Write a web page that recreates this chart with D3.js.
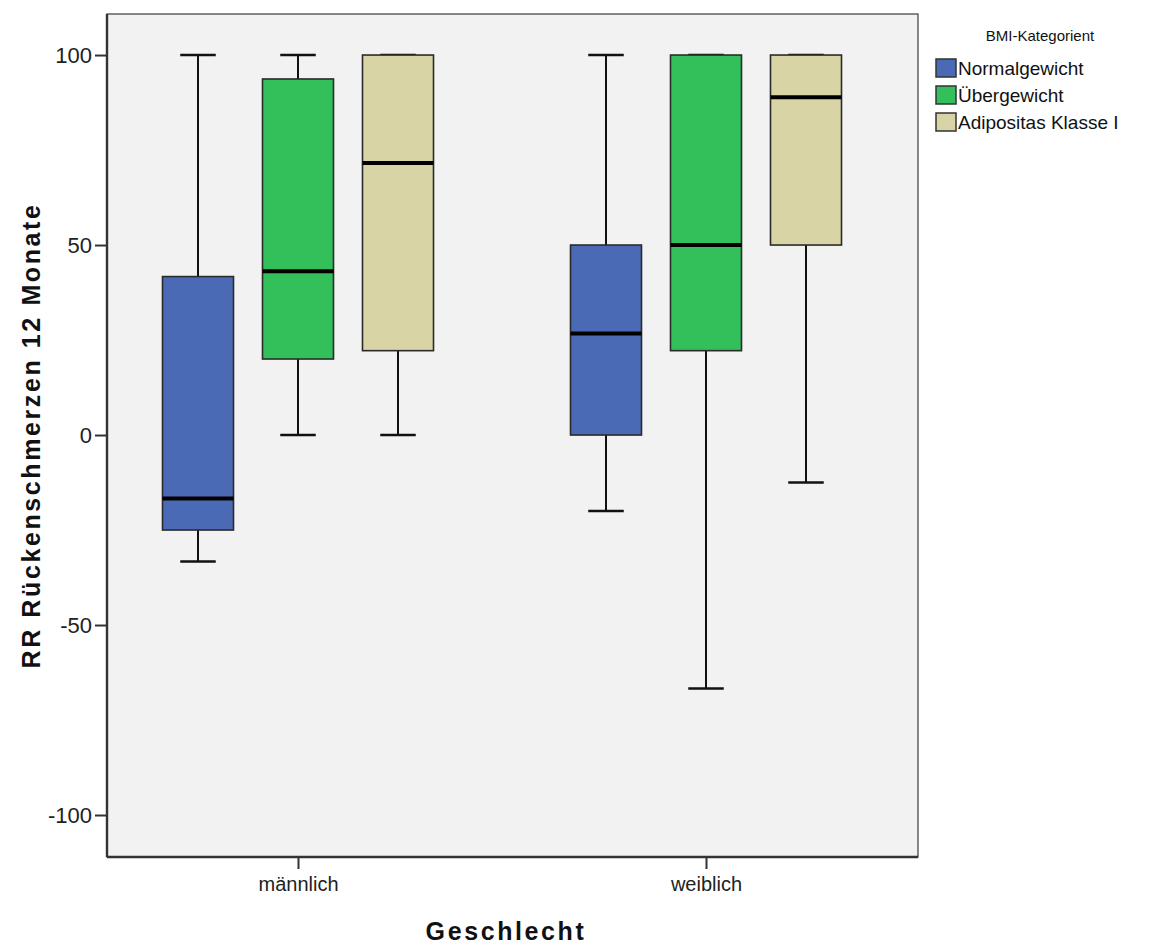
<!DOCTYPE html>
<html>
<head>
<meta charset="utf-8">
<script src="https://cdn.jsdelivr.net/npm/d3@7"></script>
<style>
  html, body { margin: 0; padding: 0; background: #ffffff; }
  svg { display: block; }
  text { font-family: Arial, "Liberation Sans", sans-serif; }
</style>
</head>
<body>
<svg id="chart" width="1150" height="946"></svg>
<script>
// Groups on the x axis and BMI categories within each group
const genders = ["männlich", "weiblich"];
const bmiCategories = ["Normalgewicht", "Übergewicht", "Adipositas Klasse I"];
const bmiColors = ["#4a6ab6", "#33bf5a", "#d9d4a5"];

// Box statistics per gender, in the order of bmiCategories
const whiskerLow = { "männlich": [-33.3, 0, 0],        "weiblich": [-20, -66.7, -12.5] };
const q1         = { "männlich": [-25, 20, 22.2],      "weiblich": [0, 22.2, 50] };
const median     = { "männlich": [-16.7, 43.1, 71.6],  "weiblich": [26.7, 50, 88.9] };
const q3         = { "männlich": [41.7, 93.7, 100],    "weiblich": [50, 100, 100] };
const whiskerHigh= { "männlich": [100, 100, 100],      "weiblich": [100, 100, 100] };

const yTicks = [-100, -50, 0, 50, 100];
const yTitle = "RR Rückenschmerzen 12 Monate";
const xTitle = "Geschlecht";
const legendTitle = "BMI-Kategorient";

// Build one record per box
const boxes = [];
genders.forEach(g => {
  bmiCategories.forEach((c, i) => {
    boxes.push({
      gender: g, cat: c, color: bmiColors[i],
      lo: whiskerLow[g][i], q1: q1[g][i], med: median[g][i],
      q3: q3[g][i], hi: whiskerHigh[g][i]
    });
  });
});

const svg = d3.select("#chart");
const plot = { left: 107, right: 918, top: 14, bottom: 857 };

const y = d3.scaleLinear().domain([-111.05, 110.8]).range([plot.bottom, plot.top]);
const x = d3.scalePoint().domain(genders).range([plot.left + 191, plot.right - 212]);
const xInner = d3.scaleBand().domain(bmiCategories).range([-150, 150])
  .paddingInner(0.29).paddingOuter(0.145);
const color = d3.scaleOrdinal().domain(bmiCategories).range(bmiColors);

// Plot background and frame
svg.append("rect")
  .attr("x", plot.left).attr("y", plot.top)
  .attr("width", plot.right - plot.left).attr("height", plot.bottom - plot.top)
  .attr("fill", "#f2f2f2").attr("stroke", "#3a3a3a").attr("stroke-width", 1.2);

// Boxes
const bw = xInner.bandwidth();
const g = svg.append("g");
const box = g.selectAll("g.box").data(boxes).join("g").attr("class", "box")
  .attr("transform", d => `translate(${x(d.gender) + xInner(d.cat)},0)`);

// whisker stems
box.append("line")
  .attr("x1", bw / 2).attr("x2", bw / 2)
  .attr("y1", d => y(d.hi)).attr("y2", d => y(d.q3))
  .attr("stroke", "#111").attr("stroke-width", 2);
box.append("line")
  .attr("x1", bw / 2).attr("x2", bw / 2)
  .attr("y1", d => y(d.q1)).attr("y2", d => y(d.lo))
  .attr("stroke", "#111").attr("stroke-width", 2);
// whisker caps
box.append("line")
  .attr("x1", bw / 4).attr("x2", bw * 3 / 4)
  .attr("y1", d => y(d.hi)).attr("y2", d => y(d.hi))
  .attr("stroke", "#111").attr("stroke-width", 2.5);
box.append("line")
  .attr("x1", bw / 4).attr("x2", bw * 3 / 4)
  .attr("y1", d => y(d.lo)).attr("y2", d => y(d.lo))
  .attr("stroke", "#111").attr("stroke-width", 2.5);
// box body
box.append("rect")
  .attr("x", 0).attr("width", bw)
  .attr("y", d => y(d.q3)).attr("height", d => y(d.q1) - y(d.q3))
  .attr("fill", d => color(d.cat)).attr("stroke", "#2a2a2a").attr("stroke-width", 1.6);
// median
box.append("line")
  .attr("x1", 0).attr("x2", bw)
  .attr("y1", d => y(d.med)).attr("y2", d => y(d.med))
  .attr("stroke", "#000").attr("stroke-width", 4);

// Y axis
const yAxis = svg.append("g")
  .attr("transform", `translate(${plot.left},0)`)
  .call(d3.axisLeft(y).tickValues(yTicks).tickFormat(d => String(d))
    .tickSize(12).tickPadding(3).tickSizeOuter(0));
yAxis.select(".domain").remove();
yAxis.selectAll(".tick line").attr("stroke", "#333").attr("stroke-width", 2);
yAxis.selectAll(".tick text").attr("font-size", 22).attr("fill", "#222");
svg.append("line")
  .attr("x1", plot.left).attr("x2", plot.left)
  .attr("y1", plot.top).attr("y2", plot.bottom)
  .attr("stroke", "#333").attr("stroke-width", 2.4);

// X axis
const xAxis = svg.append("g")
  .attr("transform", `translate(0,${plot.bottom})`)
  .call(d3.axisBottom(x).tickSize(12).tickPadding(8).tickSizeOuter(0));
xAxis.select(".domain").remove();
xAxis.selectAll(".tick line").attr("stroke", "#333").attr("stroke-width", 2);
xAxis.selectAll(".tick text").attr("font-size", 20).attr("fill", "#222");
svg.append("line")
  .attr("x1", plot.left).attr("x2", plot.right)
  .attr("y1", plot.bottom).attr("y2", plot.bottom)
  .attr("stroke", "#333").attr("stroke-width", 2.4);

// Axis titles
svg.append("text")
  .attr("x", 506).attr("y", 940)
  .attr("text-anchor", "middle")
  .attr("font-size", 25).attr("font-weight", "bold").attr("letter-spacing", 2.6)
  .attr("fill", "#111")
  .text(xTitle);
svg.append("text")
  .attr("transform", `translate(40,${(plot.top + plot.bottom) / 2}) rotate(-90)`)
  .attr("text-anchor", "middle")
  .attr("font-size", 25).attr("font-weight", "bold").attr("letter-spacing", 2.6)
  .attr("fill", "#111")
  .text(yTitle);

// Legend
const legend = svg.append("g").attr("transform", "translate(935,0)");
legend.append("text")
  .attr("x", 105).attr("y", 41)
  .attr("text-anchor", "middle")
  .attr("font-family", "'Liberation Sans Narrow', 'Arial Narrow', Arial, sans-serif")
  .attr("font-size", 15).attr("fill", "#111")
  .text(legendTitle);
const item = legend.selectAll("g.item").data(bmiCategories).join("g").attr("class", "item")
  .attr("transform", (d, i) => `translate(0,${59 + i * 27})`);
item.append("rect")
  .attr("x", 1).attr("y", 0).attr("width", 20).attr("height", 18)
  .attr("fill", d => color(d)).attr("stroke", "#333").attr("stroke-width", 1.5);
item.append("text")
  .attr("x", 23).attr("y", 16)
  .attr("font-size", 19).attr("fill", "#111")
  .text(d => d);
</script>
</body>
</html>
